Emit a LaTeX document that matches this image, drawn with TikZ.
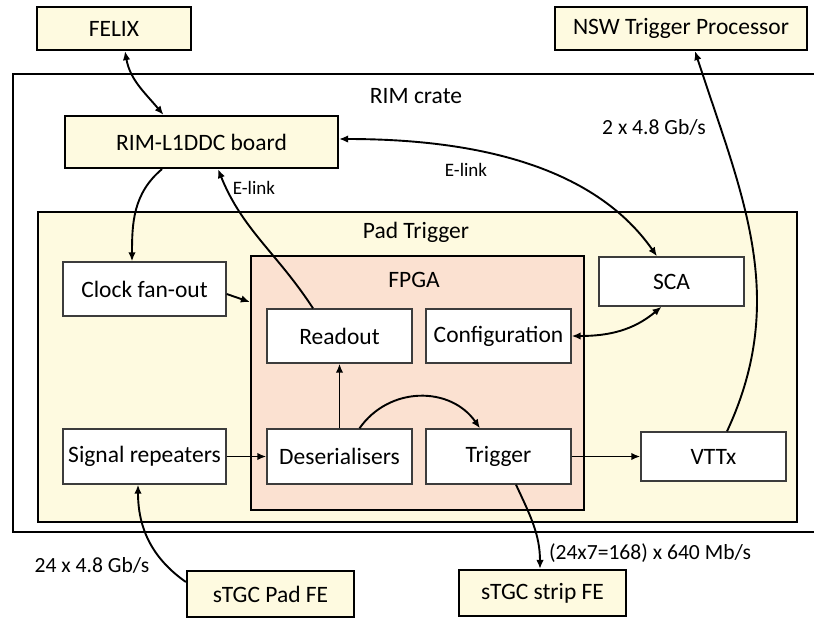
\documentclass[tikz,border=0pt]{standalone}
\usepackage{fontspec}
\setmainfont{Carlito}
\usetikzlibrary{arrows.meta}
\definecolor{cream}{RGB}{254,250,224}
\definecolor{peach}{RGB}{251,225,209}
\definecolor{wbord}{RGB}{60,60,60}
\tikzset{
  outerbox/.style={draw=black, line width=2.2pt, fill=cream, inner sep=0pt, font=\fontsize{23.5}{26}\selectfont},
  innerbox/.style={draw=wbord, line width=1.4pt, fill=white, inner sep=0pt, font=\fontsize{23.5}{26}\selectfont},
  lbl/.style={inner sep=0pt, font=\fontsize{23.5}{26}\selectfont},
  rate/.style={inner sep=0pt, font=\fontsize{21.6}{24}\selectfont},
  elink/.style={inner sep=0pt, font=\fontsize{19}{22}\selectfont},
  conn/.style={line width=1.9pt, -{Latex[length=9pt,width=7.5pt]}},
  bconn/.style={line width=1.9pt, {Latex[length=9pt,width=7.5pt]}-{Latex[length=9pt,width=7.5pt]}}
}
\begin{document}
\begin{tikzpicture}[x=1pt,y=-1pt]
\useasboundingbox (0,0) rectangle (814,619);
% RIM crate
\draw[line width=1.8pt] (816,74) -- (13,74) -- (13,532) -- (816,532);
\node[lbl] (rimcrate) at (416,96) {RIM crate};
% Pad Trigger container
\node[outerbox, minimum width=759pt, minimum height=310pt] (padtrig) at (417.5,367) {};
\node[lbl] (padtriglbl) at (416,232) {Pad Trigger};
% FPGA container
\node[outerbox, fill=peach, minimum width=333pt, minimum height=254pt] (fpga) at (417.5,383) {};
\node[lbl] (fpgalbl) at (414,280) {FPGA};
% external boxes
\node[outerbox, minimum width=154pt, minimum height=43pt] (felix) at (114,28.5) {FELIX};
\node[outerbox, minimum width=252pt, minimum height=43pt] (nsw) at (681,28.5) {NSW Trigger Processor};
\node[outerbox, minimum width=273pt, minimum height=52pt] (rim) at (201.5,142) {RIM-L1DDC board};
\node[outerbox, minimum width=167pt, minimum height=46pt] (padfe) at (270.5,594) {sTGC Pad FE};
\node[outerbox, minimum width=167pt, minimum height=46pt] (stripfe) at (542.5,593) {sTGC strip FE};
% inner boxes
\node[innerbox, minimum width=163pt, minimum height=54pt] (clock) at (144.5,289) {Clock fan-out};
\node[innerbox, minimum width=145pt, minimum height=49pt] (sca) at (671.5,281.5) {SCA};
\node[innerbox, minimum width=145pt, minimum height=54pt] (readout) at (339.5,336) {Readout};
\node[innerbox, minimum width=145pt, minimum height=54pt] (config) at (498.5,336) {Configuration};
\node[innerbox, minimum width=163pt, minimum height=55pt] (sigrep) at (144.5,456.5) {Signal repeaters};
\node[innerbox, minimum width=145pt, minimum height=55pt] (deser) at (339.5,456.5) {Deserialisers};
\node[innerbox, minimum width=145pt, minimum height=55pt] (trig) at (498.5,456.5) {Trigger};
\node[innerbox, minimum width=145pt, minimum height=49pt] (vttx) at (713.5,456.5) {VTTx};
% connectors
\draw[bconn] ([xshift=11pt]felix.south) to[out=-80,in=130] ([xshift=-38pt]rim.north);
\draw[conn] ([xshift=-39.5pt]rim.south) to[out=-140,in=90] ([xshift=-12.5pt]clock.north);
\draw[conn] ([xshift=-26.5pt]readout.north) to[out=123,in=-68] ([xshift=16.5pt]rim.south);
\draw[bconn] ([yshift=3pt]rim.east) to[out=0,in=125,looseness=0.9] ([xshift=-14.5pt]sca.north);
\draw[bconn] (config.east) to[out=0,in=-140] ([xshift=-10pt]sca.south);
\draw[conn] ([yshift=-5pt]clock.east) -- ([yshift=81pt]fpga.west);
\draw[conn] (deser.north) -- (readout.south);
\draw[conn] ([xshift=20pt]deser.north) to[out=55,in=125,looseness=1.1] ([xshift=-18.5pt]trig.north);
\draw[conn] (sigrep.east) -- (deser.west);
\draw[conn] (trig.east) -- (vttx.west);
\draw[conn] ([xshift=13.5pt]vttx.north) to[out=65,in=-72] ([xshift=14pt]nsw.south);
\draw[conn] ([yshift=12pt]padfe.west) to[out=145,in=-90] ([xshift=-6.5pt]sigrep.south);
\draw[conn] ([xshift=17.5pt]trig.south) to[out=-65,in=90] ([xshift=-2.5pt]stripfe.north);
% labels
\node[elink] (el1) at (254,188) {E-link};
\node[elink] (el2) at (466,170) {E-link};
\node[rate] (r1) at (654,127) {2 x 4.8 Gb/s};
\node[rate] (r2) at (92,565) {24 x 4.8 Gb/s};
\node[rate] (r3) at (650,553) {(24x7=168) x 640 Mb/s};
\end{tikzpicture}
\end{document}
